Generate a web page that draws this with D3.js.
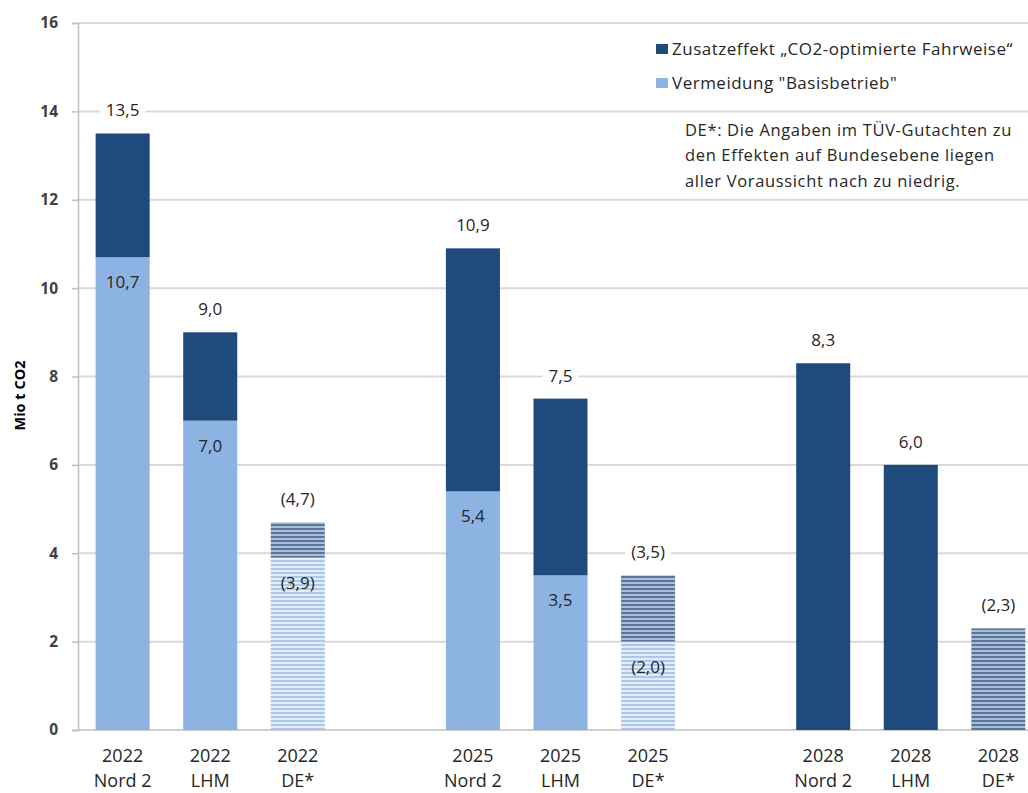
<!DOCTYPE html>
<html>
<head>
<meta charset="utf-8">
<script src="https://cdn.jsdelivr.net/npm/d3@7"></script>
<style>
  html, body { margin: 0; padding: 0; background: #fff; }
  svg { display: block; font-family: "Open Sans", Lato, sans-serif; }
</style>
</head>
<body>
<svg id="chart" width="1028" height="793"></svg>
<script>
// ---- data ----
const years = ["2022", "2022", "2022", "2025", "2025", "2025", "2028", "2028", "2028"];
const sources = ["Nord 2", "LHM", "DE*", "Nord 2", "LHM", "DE*", "Nord 2", "LHM", "DE*"];
const baseValues = [10.7, 7.0, 3.9, 5.4, 3.5, 2.0, 0, 0, 0];          // Vermeidung "Basisbetrieb"
const totalValues = [13.5, 9.0, 4.7, 10.9, 7.5, 3.5, 8.3, 6.0, 2.3];   // Gesamt
const estimated = [false, false, true, false, false, true, false, false, true]; // DE* (in Klammern)
const yTicks = [0, 2, 4, 6, 8, 10, 12, 14, 16];
const seriesNames = ["Zusatzeffekt \u201ECO2-optimierte Fahrweise\u201C", "Vermeidung \"Basisbetrieb\""];
const noteLines = ["DE*: Die Angaben im T\u00DCV-Gutachten zu", "den Effekten auf Bundesebene liegen", "aller Voraussicht nach zu niedrig."];
const yTitle = "Mio t CO2";

const fmt = v => d3.format(".1f")(v).replace(".", ",");

const svg = d3.select("#chart");
const W = 1028, H = 793;
const colDark = "#1f4a7c", colLight = "#8db3e2";
const textCol = "#262626";

// keys with blank spacer slots between year groups
const keys = [];
years.forEach((y, i) => {
  if (i > 0 && years[i - 1] !== y) keys.push("gap" + i);
  keys.push(i);
});

const x = d3.scaleBand().domain(keys).range([79, 1042]).paddingInner(0.383).paddingOuter(0.19);
const y = d3.scaleLinear().domain([0, 16]).range([730, 23]);

// patterns
const defs = svg.append("defs");
function stripes(id, bg, fg) {
  const p = defs.append("pattern").attr("id", id).attr("patternUnits", "userSpaceOnUse")
    .attr("width", 8).attr("height", 4);
  p.append("rect").attr("width", 8).attr("height", 4).attr("fill", bg);
  p.append("rect").attr("width", 8).attr("height", 2).attr("fill", fg);
}
stripes("hatchDark", "#aebdd3", "#56769f");
stripes("hatchLight", "#e3ecf8", "#abc7ea");

// gridlines
svg.append("g").selectAll("line").data(yTicks.filter(t => t > 0)).join("line")
  .attr("x1", 78).attr("x2", W).attr("y1", d => y(d)).attr("y2", d => y(d))
  .attr("stroke", "#d9d9d9").attr("stroke-width", 2);

// y axis
const yAxis = d3.axisLeft(y).tickValues(yTicks).tickSize(6).tickPadding(14).tickFormat(d3.format("d"));
const gy = svg.append("g").attr("transform", "translate(78,0)").call(yAxis);
gy.select(".domain").attr("stroke", "#bfbfbf").attr("stroke-width", 1.5);
gy.selectAll(".tick line").attr("stroke", "#bfbfbf").attr("stroke-width", 1.5);
gy.selectAll(".tick text").attr("font-size", 15.5).attr("font-weight", "bold").attr("fill", "#404040")
  .attr("font-family", "'Open Sans', Lato, sans-serif");

// baseline
svg.append("line").attr("x1", 78).attr("x2", W).attr("y1", y(0)).attr("y2", y(0))
  .attr("stroke", "#bfbfbf").attr("stroke-width", 1.5);

// y title
svg.append("text").attr("transform", `translate(20,${(y(0) + y(16)) / 2 + 19}) rotate(-90)`)
  .attr("text-anchor", "middle").attr("dy", "0.35em").attr("font-size", 14.5).attr("font-weight", "bold").attr("fill", "#000")
  .text(yTitle);

const idx = d3.range(years.length);

// bars: base part
const bars = svg.append("g");
bars.selectAll("rect.base").data(idx.filter(i => baseValues[i] > 0)).join("rect")
  .attr("class", "base")
  .attr("x", i => x(i)).attr("width", x.bandwidth())
  .attr("y", i => y(baseValues[i])).attr("height", i => y(0) - y(baseValues[i]))
  .attr("fill", i => estimated[i] ? "url(#hatchLight)" : colLight);
// top part
bars.selectAll("rect.top").data(idx).join("rect")
  .attr("class", "top")
  .attr("x", i => x(i)).attr("width", x.bandwidth())
  .attr("y", i => y(totalValues[i])).attr("height", i => y(baseValues[i]) - y(totalValues[i]))
  .attr("fill", i => estimated[i] ? "url(#hatchDark)" : colDark);

// total labels with white background
const lab = svg.append("g");
idx.forEach(i => {
  const cx = x(i) + x.bandwidth() / 2;
  const cy = y(totalValues[i]) - 23;
  const txt = estimated[i] ? `(${fmt(totalValues[i])})` : fmt(totalValues[i]);
  const t = lab.append("text").attr("x", cx).attr("y", cy).attr("dy", "0.35em").attr("text-anchor", "middle")
    .attr("font-size", 17).attr("fill", textCol).text(txt);
  const bb = t.node().getBBox();
  lab.insert("rect", () => t.node()).attr("x", bb.x - 6).attr("y", cy - 10).attr("width", bb.width + 12).attr("height", 20).attr("fill", "#fff");
});
// base labels inside
idx.filter(i => baseValues[i] > 0).forEach(i => {
  const cx = x(i) + x.bandwidth() / 2;
  const cy = y(baseValues[i]) + 25;
  const txt = estimated[i] ? `(${fmt(baseValues[i])})` : fmt(baseValues[i]);
  lab.append("text").attr("x", cx).attr("y", cy).attr("dy", "0.35em").attr("text-anchor", "middle")
    .attr("font-size", 17).attr("fill", textCol).text(txt);
});

// x labels
const xl = svg.append("g");
idx.forEach(i => {
  const cx = x(i) + x.bandwidth() / 2;
  const t = xl.append("text").attr("text-anchor", "middle").attr("font-size", 18).attr("fill", textCol);
  t.append("tspan").attr("x", cx).attr("y", 756).attr("dy", "0.35em").text(years[i]);
  t.append("tspan").attr("x", cx).attr("y", 781).attr("dy", "0.35em").text(sources[i]);
});

// legend
const lg = svg.append("g");
[colDark, colLight].forEach((c, k) => {
  const cy = 49 + k * 34;
  lg.append("rect").attr("x", 656).attr("y", cy - 5).attr("width", 12).attr("height", 10).attr("fill", c);
  lg.append("text").attr("x", 672).attr("y", cy).attr("dy", "0.35em").attr("font-size", 17).attr("letter-spacing", 0.5)
    .attr("fill", textCol).text(seriesNames[k]);
});
noteLines.forEach((l, k) => {
  lg.append("text").attr("x", 685).attr("y", 130 + k * 25.5).attr("dy", "0.35em").attr("font-size", 16.5)
    .attr("letter-spacing", 0.65).attr("fill", textCol).text(l);
});
</script>
</body>
</html>
